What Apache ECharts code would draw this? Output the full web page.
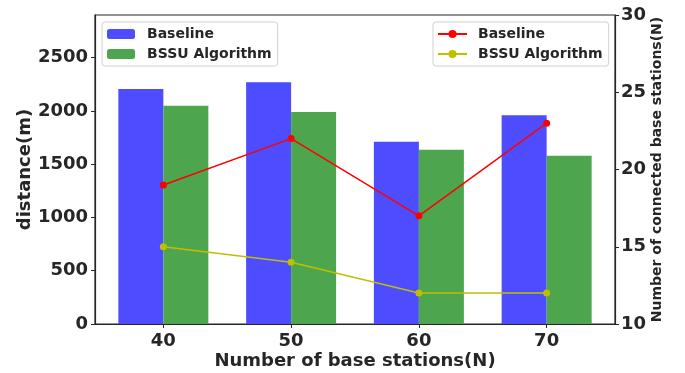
<!DOCTYPE html>
<html>
<head>
<meta charset="utf-8">
<script src="https://cdn.jsdelivr.net/npm/echarts@6/dist/echarts.min.js"></script>
<style>html,body{margin:0;padding:0;background:#fff}#c{width:685px;height:373px}</style>
</head>
<body>
<div id="c"></div>
<script>
const categories = ['40', '50', '60', '70'];
const barBaseline = [2205, 2270, 1710, 1960];
const barBSSU = [2048, 1990, 1635, 1580];
const lineBaseline = [19, 22, 17, 23];
const lineBSSU = [15, 14, 12, 12];
const leftTicks = [0, 500, 1000, 1500, 2000, 2500];

const FONT = 'DejaVu Sans';
const TXT = '#262626';
const idx = categories.map((c, i) => i);
const pairs = arr => arr.map((v, i) => [i, v]);

const chart = echarts.init(document.getElementById('c'), null, {renderer: 'canvas'});
chart.setOption({
  animation: false,
  textStyle: {fontFamily: FONT},
  grid: {left: 95, right: 70, top: 15, bottom: 49, containLabel: false, outerBoundsMode: 'none', show: true, borderColor: '#262626', borderWidth: 1.2},
  legend: [
    {
      data: ['Baseline', 'BSSU Algorithm'],
      orient: 'vertical', left: 102, top: 22,
      itemWidth: 28, itemHeight: 10, itemGap: 6,
      padding: [5, 6, 5, 5],
      borderColor: '#d0d0d0', borderWidth: 1, borderRadius: 3,
      backgroundColor: 'rgba(255,255,255,0.8)',
      textStyle: {fontFamily: FONT, fontWeight: 'bold', fontSize: 14, color: TXT, padding: [0, 0, 0, 7]},
      formatter: n => n
    },
    {
      data: ['Baseline ', 'BSSU Algorithm '],
      orient: 'vertical', left: 433, top: 22,
      itemWidth: 29, itemHeight: 10, itemGap: 6,
      padding: [5, 6, 5, 4],
      borderColor: '#d0d0d0', borderWidth: 1, borderRadius: 3,
      backgroundColor: 'rgba(255,255,255,0.8)',
      textStyle: {fontFamily: FONT, fontWeight: 'bold', fontSize: 14, color: TXT, padding: [0, 0, 0, 6]},
      formatter: n => n.trim()
    }
  ],
  xAxis: {
    type: 'value', min: -0.535, max: 3.535,
    name: 'Number of base stations(N)', nameLocation: 'middle', nameGap: 28, nameMoveOverlap: false,
    nameTextStyle: {fontFamily: FONT, fontWeight: 'bold', fontSize: 18, color: TXT},
    axisLine: {show: true, onZero: false, lineStyle: {color: '#262626', width: 1.2}},
    axisTick: {show: true, length: 4, customValues: idx, lineStyle: {color: '#262626'}},
    axisLabel: {customValues: idx, formatter: v => categories[Math.round(v)], fontFamily: FONT, fontWeight: 'bold', fontSize: 18, color: TXT, margin: 8},
    splitLine: {show: false}
  },
  yAxis: [
    {
      type: 'value', min: 0, max: 2900,
      name: 'distance(m)', nameLocation: 'middle', nameGap: 61, nameMoveOverlap: false,
      nameTextStyle: {fontFamily: FONT, fontWeight: 'bold', fontSize: 18, color: TXT},
      axisLine: {show: true, onZero: false, lineStyle: {color: '#262626', width: 1.2}},
      axisTick: {show: true, length: 4, customValues: leftTicks, lineStyle: {color: '#262626'}},
      axisLabel: {customValues: leftTicks, formatter: v => String(v), fontFamily: FONT, fontWeight: 'bold', fontSize: 18, color: TXT, margin: 7},
      splitLine: {show: false}
    },
    {
      type: 'value', min: 10, max: 30, interval: 5, position: 'right',
      name: 'Number of connected base stations(N)', nameLocation: 'middle', nameGap: 35, nameMoveOverlap: false,
      nameTextStyle: {fontFamily: FONT, fontWeight: 'bold', fontSize: 14, color: TXT},
      axisLine: {show: true, onZero: false, lineStyle: {color: '#262626', width: 1.2}},
      axisTick: {show: true, length: 4, lineStyle: {color: '#262626'}},
      axisLabel: {fontFamily: FONT, fontWeight: 'bold', fontSize: 18, color: TXT, margin: 6},
      splitLine: {show: false}
    }
  ],
  series: [
    {name: 'Baseline', type: 'bar', yAxisIndex: 0, data: pairs(barBaseline), barWidth: 45, barGap: '0%', itemStyle: {color: '#4d4dff'}},
    {name: 'BSSU Algorithm', type: 'bar', yAxisIndex: 0, data: pairs(barBSSU), barWidth: 45, barGap: '0%', itemStyle: {color: '#4da64d'}},
    {name: 'Baseline ', type: 'line', yAxisIndex: 1, data: pairs(lineBaseline), symbol: 'circle', symbolSize: 7, lineStyle: {color: '#ff0000', width: 1.5}, itemStyle: {color: '#ff0000'}, z: 5},
    {name: 'BSSU Algorithm ', type: 'line', yAxisIndex: 1, data: pairs(lineBSSU), symbol: 'circle', symbolSize: 7, lineStyle: {color: '#bfbf00', width: 1.5}, itemStyle: {color: '#bfbf00'}, z: 5}
  ]
});
</script>
</body>
</html>
